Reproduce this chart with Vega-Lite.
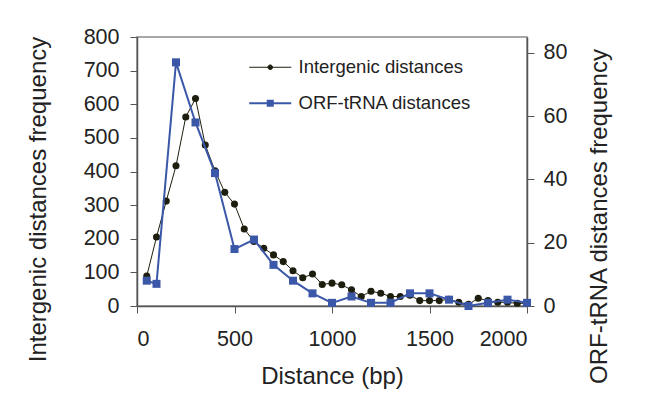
{
  "$schema": "https://vega.github.io/schema/vega-lite/v6.json",
  "width": 390,
  "height": 269,
  "autosize": {"type": "none"},
  "padding": {"left": 137, "top": 37, "right": 126, "bottom": 100},
  "background": "white",
  "config": {
    "font": "Liberation Sans",
    "view": {"stroke": "#8a8a8a", "strokeWidth": 1.5},
    "axis": {
      "grid": false,
      "labelFont": "Liberation Sans",
      "titleFont": "Liberation Sans",
      "labelFontSize": 21.5,
      "titleFontSize": 24,
      "titleFontWeight": "normal",
      "labelColor": "#222",
      "titleColor": "#222",
      "domainColor": "#555",
      "domainWidth": 1.5,
      "tickColor": "#555",
      "tickWidth": 1,
      "tickSize": 7
    },
    "legend": {
      "orient": "none",
      "legendX": 124,
      "legendY": 21,
      "labelFont": "Liberation Sans",
      "labelFontSize": 18.5,
      "labelColor": "#222",
      "labelLimit": 0,
      "symbolSize": 1764,
      "labelOffset": 19,
      "rowPadding": 17
    }
  },
  "datasets": {
    "inter": [
      {"distance": 50, "series": "Intergenic distances", "freq": 89},
      {"distance": 100, "series": "Intergenic distances", "freq": 205},
      {"distance": 150, "series": "Intergenic distances", "freq": 312},
      {"distance": 200, "series": "Intergenic distances", "freq": 417},
      {"distance": 250, "series": "Intergenic distances", "freq": 562},
      {"distance": 300, "series": "Intergenic distances", "freq": 617},
      {"distance": 350, "series": "Intergenic distances", "freq": 479},
      {"distance": 400, "series": "Intergenic distances", "freq": 402},
      {"distance": 450, "series": "Intergenic distances", "freq": 338},
      {"distance": 500, "series": "Intergenic distances", "freq": 303},
      {"distance": 550, "series": "Intergenic distances", "freq": 229},
      {"distance": 600, "series": "Intergenic distances", "freq": 192},
      {"distance": 650, "series": "Intergenic distances", "freq": 172},
      {"distance": 700, "series": "Intergenic distances", "freq": 152},
      {"distance": 750, "series": "Intergenic distances", "freq": 132},
      {"distance": 800, "series": "Intergenic distances", "freq": 105},
      {"distance": 850, "series": "Intergenic distances", "freq": 84},
      {"distance": 900, "series": "Intergenic distances", "freq": 95},
      {"distance": 950, "series": "Intergenic distances", "freq": 64},
      {"distance": 1000, "series": "Intergenic distances", "freq": 68},
      {"distance": 1050, "series": "Intergenic distances", "freq": 63},
      {"distance": 1100, "series": "Intergenic distances", "freq": 48},
      {"distance": 1150, "series": "Intergenic distances", "freq": 28},
      {"distance": 1200, "series": "Intergenic distances", "freq": 44},
      {"distance": 1250, "series": "Intergenic distances", "freq": 38},
      {"distance": 1300, "series": "Intergenic distances", "freq": 28},
      {"distance": 1350, "series": "Intergenic distances", "freq": 28},
      {"distance": 1400, "series": "Intergenic distances", "freq": 32},
      {"distance": 1450, "series": "Intergenic distances", "freq": 16},
      {"distance": 1500, "series": "Intergenic distances", "freq": 16},
      {"distance": 1550, "series": "Intergenic distances", "freq": 16},
      {"distance": 1600, "series": "Intergenic distances", "freq": 20},
      {"distance": 1650, "series": "Intergenic distances", "freq": 11},
      {"distance": 1700, "series": "Intergenic distances", "freq": 5},
      {"distance": 1750, "series": "Intergenic distances", "freq": 23},
      {"distance": 1800, "series": "Intergenic distances", "freq": 16},
      {"distance": 1850, "series": "Intergenic distances", "freq": 11},
      {"distance": 1900, "series": "Intergenic distances", "freq": 11},
      {"distance": 1950, "series": "Intergenic distances", "freq": 8},
      {"distance": 2000, "series": "Intergenic distances", "freq": 8}
    ],
    "orf": [
      {"distance": 50, "series": "ORF-tRNA distances", "freq": 8},
      {"distance": 100, "series": "ORF-tRNA distances", "freq": 7},
      {"distance": 200, "series": "ORF-tRNA distances", "freq": 77},
      {"distance": 300, "series": "ORF-tRNA distances", "freq": 58},
      {"distance": 400, "series": "ORF-tRNA distances", "freq": 42},
      {"distance": 500, "series": "ORF-tRNA distances", "freq": 18},
      {"distance": 600, "series": "ORF-tRNA distances", "freq": 21},
      {"distance": 700, "series": "ORF-tRNA distances", "freq": 13},
      {"distance": 800, "series": "ORF-tRNA distances", "freq": 8},
      {"distance": 900, "series": "ORF-tRNA distances", "freq": 4},
      {"distance": 1000, "series": "ORF-tRNA distances", "freq": 1},
      {"distance": 1100, "series": "ORF-tRNA distances", "freq": 3},
      {"distance": 1200, "series": "ORF-tRNA distances", "freq": 1},
      {"distance": 1300, "series": "ORF-tRNA distances", "freq": 1},
      {"distance": 1400, "series": "ORF-tRNA distances", "freq": 4},
      {"distance": 1500, "series": "ORF-tRNA distances", "freq": 4},
      {"distance": 1600, "series": "ORF-tRNA distances", "freq": 2},
      {"distance": 1700, "series": "ORF-tRNA distances", "freq": 0},
      {"distance": 1800, "series": "ORF-tRNA distances", "freq": 1},
      {"distance": 1900, "series": "ORF-tRNA distances", "freq": 2},
      {"distance": 2000, "series": "ORF-tRNA distances", "freq": 1}
    ]
  },
  "layer": [
    {
      "data": {"name": "inter"},
      "encoding": {
        "x": {
          "field": "distance", "type": "quantitative",
          "scale": {"domain": [0, 2000], "nice": false},
          "axis": {"values": [0, 500, 1000, 1500, 2000], "format": "d", "title": "Distance (bp)", "labelPadding": 15, "titlePadding": 15}
        },
        "y": {
          "field": "freq", "type": "quantitative",
          "scale": {"domain": [0, 800], "nice": false},
          "axis": {"orient": "left", "values": [0, 100, 200, 300, 400, 500, 600, 700, 800], "title": "Intergenic distances frequency", "titleY": 162, "labelPadding": 11, "titlePadding": 33}
        }
      },
      "layer": [
        {
          "mark": {"type": "line", "strokeWidth": 1},
          "encoding": {
            "color": {
              "field": "series", "type": "nominal",
              "scale": {"domain": ["Intergenic distances", "ORF-tRNA distances"], "range": ["#1e1e0e", "#3b57a8"]},
              "legend": {
                "title": null,
                "symbolType": "M-1,0H1",
                "encode": {
                  "symbols": {
                    "update": {
                      "shape": {"signal": "datum.value === 'Intergenic distances' ? 'M-1,0H1M-0.11,0A0.11,0.11 0 1,0 0.11,0A0.11,0.11 0 1,0 -0.11,0Z' : 'M-1,0H1M-0.12,-0.12H0.12V0.12H-0.12Z'"},
                      "fill": {"signal": "datum.value === 'Intergenic distances' ? '#1e1e0e' : '#3b57a8'"},
                      "stroke": {"signal": "datum.value === 'Intergenic distances' ? '#1e1e0e' : '#3b57a8'"},
                      "strokeWidth": {"signal": "datum.value === 'Intergenic distances' ? 1 : 2"},
                      "opacity": {"value": 1}
                    }
                  }
                }
              }
            }
          }
        },
        {
          "mark": {"type": "point", "shape": "circle", "filled": true, "size": 50, "color": "#1e1e0e", "opacity": 1}
        }
      ]
    },
    {
      "data": {"name": "orf"},
      "encoding": {
        "x": {"field": "distance", "type": "quantitative"},
        "y": {
          "field": "freq", "type": "quantitative",
          "scale": {"domain": [0, 85], "nice": false},
          "axis": {"orient": "right", "values": [0, 20, 40, 60, 80], "title": "ORF-tRNA distances frequency", "titleAngle": 270, "titleY": 179, "labelPadding": 9, "titlePadding": 45}
        }
      },
      "layer": [
        {
          "mark": {"type": "line", "strokeWidth": 2},
          "encoding": {
            "color": {"field": "series", "type": "nominal"}
          }
        },
        {
          "mark": {"type": "point", "shape": "square", "filled": true, "size": 64, "color": "#3b57a8", "opacity": 1}
        }
      ]
    }
  ],
  "resolve": {"scale": {"y": "independent"}}
}
